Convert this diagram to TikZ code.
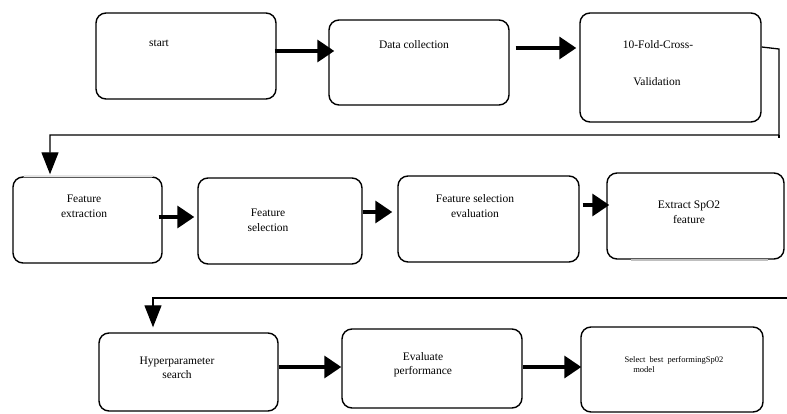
\documentclass[tikz,border=0pt]{standalone}
\usepackage{fontspec}
\setmainfont{Liberation Serif}
\usetikzlibrary{arrows.meta}
\begin{document}
\begin{tikzpicture}[x=1pt,y=-1pt,
  box/.style={draw, line width=1.4pt, rounded corners=10pt, inner sep=0pt},
  lbl/.style={font=\fontsize{11.5}{14.5}\selectfont, align=center, inner sep=0pt},
  small/.style={font=\fontsize{8.5}{10}\selectfont, inner sep=0pt},
  flow/.style={line width=3.5pt, -{Triangle[length=17pt,width=22pt]}},
  down/.style={line width=1.3pt, -{Triangle[length=22pt,width=17pt]}},
  link/.style={line width=1.3pt}]
\useasboundingbox (0,0) rectangle (787,414);

% boxes
\node[box, minimum width=180pt, minimum height=86pt]  (b1)  at (186,56) {};
\node[box, minimum width=180pt, minimum height=85pt]  (b2)  at (419,62.5) {};
\node[box, minimum width=181pt, minimum height=109pt] (b3)  at (670.5,67.5) {};
\node[box, minimum width=149pt, minimum height=86pt]  (b4)  at (87.5,220) {};
\node[box, minimum width=164pt, minimum height=86pt]  (b5)  at (280,221) {};
\node[box, minimum width=181pt, minimum height=86pt]  (b6)  at (488.5,219) {};
\node[box, minimum width=177pt, minimum height=86pt]  (b7)  at (695.5,216) {};
\node[box, minimum width=179pt, minimum height=78pt]  (b8)  at (188.5,372) {};
\node[box, minimum width=180pt, minimum height=79pt]  (b9)  at (432,368.5) {};
\node[box, minimum width=182pt, minimum height=85pt]  (b10) at (672,369.5) {};

% faint edges
\draw[gray!20, line width=1.6pt] ([xshift=12pt]b4.north west) -- ([xshift=-10pt]b4.north east);
\draw[gray!50, line width=1.6pt] ([xshift=25pt]b7.south west) -- ([xshift=-17pt]b7.south east);

% labels
\node[lbl] (t1)  at (159,43) {start};
\node[lbl] (t2)  at (414,45) {Data collection};
\node[lbl] (t3a) at (658,45) {10-Fold-Cross-};
\node[lbl] (t3b) at (657,82) {Validation};
\node[lbl] (t4)  at (84,206.5) {Feature\\extraction};
\node[lbl] (t5)  at (268,220.5) {Feature\\selection};
\node[lbl] (t6)  at (475,206) {Feature selection\\evaluation};
\node[lbl] (t7)  at (689,212) {Extract SpO2\\feature};
\node[lbl] (t8)  at (177,368) {Hyperparameter\\search};
\node[lbl] (t9)  at (423,364.5) {Evaluate\\performance};
\node[small] (t10a) at (674,360) {Select\ \ best\ \ performingSp02};
\node[small] (t10b) at (644,369.5) {model};

% flow arrows
\draw[flow] ([xshift=-2pt,yshift=5pt]b1.east) -- ([xshift=6pt,yshift=11.5pt]b2.west);
\draw[flow] ([xshift=6pt,yshift=14.5pt]b2.east) -- ([xshift=-3pt,yshift=19.5pt]b3.west);
\draw[flow] ([xshift=-4pt,yshift=3pt]b4.east) -- ([xshift=-3pt,yshift=4pt]b5.west);
\draw[flow] ([yshift=9pt]b5.east) -- ([xshift=-5pt,yshift=7pt]b6.west);
\draw[flow] ([xshift=3pt,yshift=14pt]b6.east) -- ([xshift=3pt,yshift=11pt]b7.west);
\draw[flow] ([yshift=5pt]b8.east) -- ([yshift=1.5pt]b9.west);
\draw[flow] ([yshift=1.5pt]b9.east) -- ([xshift=1pt,yshift=2.5pt]b10.west);

% return connectors
\coordinate (c1) at (779,49);
\coordinate (c2) at (779,135);
\coordinate (c3) at (50,135);
\draw[down] ([yshift=20.5pt]b3.east) -- (c1) -- (c2) -- (c3) -- ([xshift=-37.5pt,yshift=2pt]b4.north);
\draw[link] (c2) -- ++(0,3);

\coordinate (c4) at (787,298);
\coordinate (c5) at (153,298);
\draw[down] (c4) -- (c5) -- ([xshift=-35.5pt,yshift=5pt]b8.north);
\end{tikzpicture}
\end{document}
